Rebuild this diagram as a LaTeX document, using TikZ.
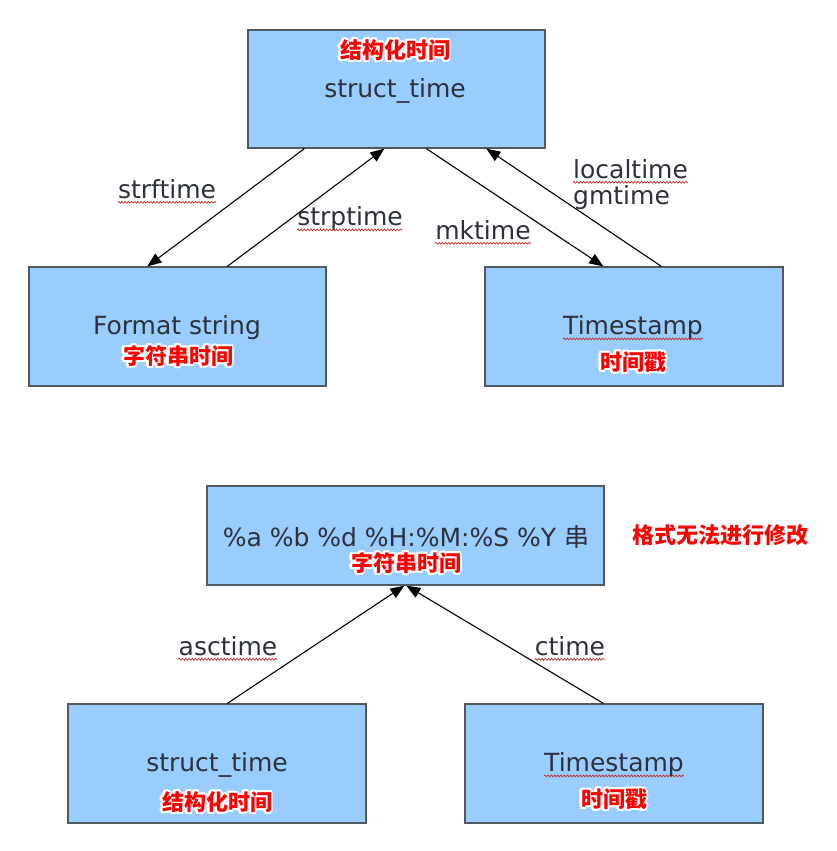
\documentclass[tikz,border=0pt]{standalone}
\usepackage{fontspec}
\setmainfont{DejaVu Sans}
\newfontfamily\cjk{Noto Sans CJK SC}
\usetikzlibrary{arrows.meta,decorations.pathmorphing}
\definecolor{boxfill}{RGB}{153,204,255}
\definecolor{boxline}{RGB}{80,88,96}
\definecolor{txt}{RGB}{45,50,58}
\definecolor{squig}{RGB}{200,40,40}
\newcommand{\redtag}[3]{%
  \node[tagshadow] at ([xshift=1.5pt,yshift=-1.5pt]#1) {\cjk\bfseries #3};
  \foreach \ang in {0,30,...,330}{\node[tagwhite] at ([shift={(\ang:2.2pt)}]#1) {\cjk\bfseries #3};}
  \node[tagred] (#2) at (#1) {\cjk\bfseries #3};}
\begin{document}
\begin{tikzpicture}[x=1pt,y=-1pt,
  box/.style={draw=boxline, fill=boxfill, line width=1.3pt, inner sep=0pt, anchor=center},
  lbl/.style={text=txt, font=\fontsize{25}{29}\selectfont, inner sep=0pt},
  tagred/.style={text=red, font=\fontsize{22}{25}\selectfont, inner sep=0pt},
  tagwhite/.style={text=white, font=\fontsize{22}{25}\selectfont, inner sep=0pt},
  tagshadow/.style={text=black!45, opacity=0.5, font=\fontsize{22}{25}\selectfont, inner sep=0pt},
  conn/.style={draw=black, line width=1.1pt, -{Triangle[length=14pt,width=11pt]}},
  wavy/.style={draw=squig, line width=0.7pt, decorate, decoration={snake, amplitude=0.9pt, segment length=3.2pt}}]
\useasboundingbox[fill=white] (0,0) rectangle (836,851);

% boxes
\node[box, minimum width=297pt, minimum height=118pt] (top) at (396.5,89) {};
\node[box, minimum width=297pt, minimum height=119pt] (fmt) at (177.5,326.5) {};
\node[box, minimum width=298pt, minimum height=119pt] (ts) at (634,326.5) {};
\node[box, minimum width=397pt, minimum height=99pt] (str) at (405.5,535.5) {};
\node[box, minimum width=298pt, minimum height=119pt] (st2) at (217,763.5) {};
\node[box, minimum width=298pt, minimum height=119pt] (ts2) at (614,763.5) {};

% texts in boxes
\node[lbl] (tTop) at (395,91) {struct\_time};
\node[lbl] (tFmt) at (177,328) {Format string};
\node[lbl] (tTs) at (633,328) {Timestamp};
\node[lbl] (tStr) at (406,537) {\%a \%b \%d \%H:\%M:\%S \%Y {\cjk 串}};
\node[lbl] (tSt2) at (217,765) {struct\_time};
\node[lbl] (tTs2) at (614,765) {Timestamp};

% red tags
\coordinate (c1) at (395,50);
\coordinate (c2) at (178,356);
\coordinate (c3) at (633,362);
\coordinate (c4) at (406,563);
\coordinate (c5) at (720,535);
\coordinate (c6) at (217,802);
\coordinate (c7) at (614,799);
\redtag{c1}{r1}{结构化时间}
\redtag{c2}{r2}{字符串时间}
\redtag{c3}{r3}{时间戳}
\redtag{c4}{r4}{字符串时间}
\redtag{c5}{r5}{格式无法进行修改}
\redtag{c6}{r6}{结构化时间}
\redtag{c7}{r7}{时间戳}

% connectors
\draw[conn] ([xshift=57pt]top.south west) -- ([xshift=119pt]fmt.north west);
\draw[conn] ([xshift=199pt]fmt.north west) -- ([xshift=137pt]top.south west);
\draw[conn] ([xshift=179pt]top.south west) -- ([xshift=119pt]ts.north west);
\draw[conn] ([xshift=177pt]ts.north west) -- ([xshift=239pt]top.south west);
\draw[conn] ([xshift=160pt]st2.north west) -- ([xshift=198pt]str.south west);
\draw[conn] ([xshift=139pt]ts2.north west) -- ([xshift=200pt]str.south west);

% connector labels
\node[lbl] (l1) at (167,189) {strftime};
\node[lbl] (l2) at (350,219) {strptime};
\node[lbl] (l3) at (483,230) {mktime};
\node[lbl, anchor=west] (l4) at (573,169) {localtime};
\node[lbl, anchor=west] (l5) at (573,198) {gmtime};
\node[lbl] (l6) at (228,646) {asctime};
\node[lbl] (l7) at (570,646) {ctime};

% spell-check squiggles
\foreach \n in {l1,l2,l3,l4,l6,l7,tTs,tTs2}{
  \draw[wavy] ([yshift=-4pt]\n.base west) -- ([yshift=-4pt]\n.base east);}
\end{tikzpicture}
\end{document}
